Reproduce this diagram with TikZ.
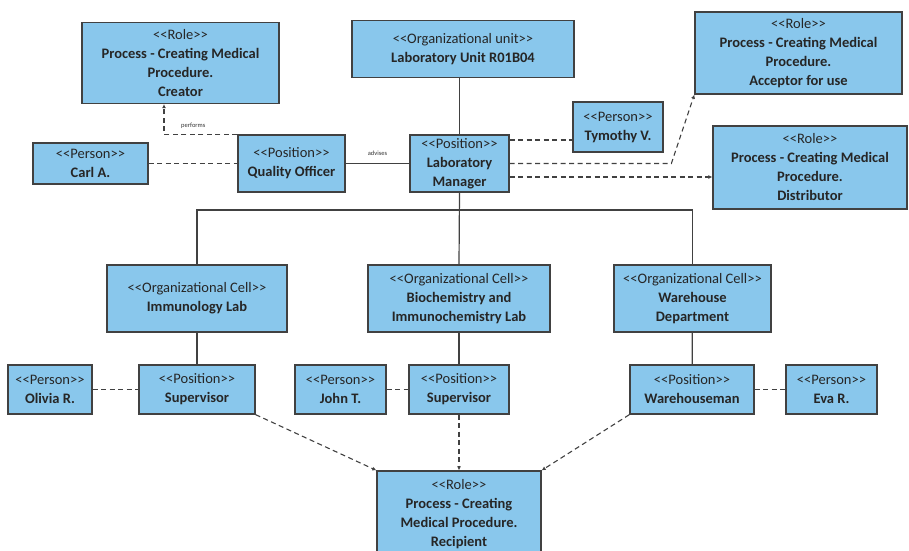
\documentclass[tikz,border=0pt]{standalone}
\usepackage{fontspec}
\setmainfont{Carlito}
\usetikzlibrary{arrows.meta,positioning}
\definecolor{boxblue}{RGB}{137,199,236}
\definecolor{edge}{RGB}{65,65,65}
\newcommand{\st}[1]{{\mdseries {<}{<}#1{>}{>}}}
\newcommand{\nm}[1]{{\bfseries #1}}

\begin{document}
\begin{tikzpicture}[x=1pt, y=-1pt,
	unit/.style={draw=edge, line width=1.3pt, fill=boxblue, align=center, inner sep=0pt, text=black!85,
		font=\fontsize{14.5}{19}\selectfont},
	dep/.style={draw=edge, line width=1.1pt, dash pattern=on 5pt off 3.5pt},
	solid line/.style={draw=edge, line width=1.2pt},
	tip/.style={-{Latex[length=4pt,width=4pt]}},
	lbl/.style={font=\fontsize{6.5}{7}\selectfont, text=black!80}]
	\clip (0,0) rectangle (909,550);
	\useasboundingbox (0,0) rectangle (909,550);
	% top row
	\node[unit, minimum width=197pt, minimum height=81pt] (creator) at (180.5, 63) {\st{Role}\\ \nm{Process - Creating Medical}\\ \nm{Procedure.}\\ \nm{Creator}};
	\node[unit, minimum width=222pt, minimum height=57pt] (orgunit) at (463, 49) {\st{Organizational unit}\\ \nm{Laboratory Unit R01B04}};
	\node[unit, minimum width=207pt, minimum height=82pt] (accept) at (798.5, 53) {\st{Role}\\ \nm{Process - Creating Medical}\\ \nm{Procedure.}\\ \nm{Acceptor for use}};
	% middle row
	\node[unit, minimum width=115pt, minimum height=41pt] (carl) at (90.5, 163.5) {\st{Person}\\ \nm{Carl A.}};
	\node[unit, minimum width=107pt, minimum height=57pt] (qo) at (291.5, 163.5) {\st{Position}\\ \nm{Quality Officer}};
	\node[unit, minimum width=99pt, minimum height=57pt] (mgr) at (459.5, 163.5) {\st{Position}\\ \nm{Laboratory}\\ \nm{Manager}};
	\node[unit, minimum width=90pt, minimum height=50pt] (tym) at (618, 127) {\st{Person}\\ \nm{Tymothy V.}};
	\node[unit, minimum width=194pt, minimum height=83pt] (distr) at (810, 167.5) {\st{Role}\\ \nm{Process - Creating Medical}\\ \nm{Procedure.}\\ \nm{Distributor}};
	% cells
	\node[unit, minimum width=180pt, minimum height=67pt] (immu) at (197, 298.5) {\st{Organizational Cell}\\ \nm{Immunology Lab}};
	\node[unit, minimum width=182pt, minimum height=67pt] (bio) at (459, 298.5) {\st{Organizational Cell}\\ \nm{Biochemistry and}\\ \nm{Immunochemistry Lab}};
	\node[unit, minimum width=157pt, minimum height=67pt] (wh) at (692.5, 298.5) {\st{Organizational Cell}\\ \nm{Warehouse}\\ \nm{Department}};
	% positions and persons
	\node[unit, minimum width=84pt, minimum height=49pt] (olivia) at (50, 389.5) {\st{Person}\\ \nm{Olivia R.}};
	\node[unit, minimum width=116pt, minimum height=49pt] (sup1) at (197, 389.5) {\st{Position}\\ \nm{Supervisor}};
	\node[unit, minimum width=91pt, minimum height=49pt] (john) at (340.5, 389.5) {\st{Person}\\ \nm{John T.}};
	\node[unit, minimum width=100pt, minimum height=49pt] (sup2) at (459, 389.5) {\st{Position}\\ \nm{Supervisor}};
	\node[unit, minimum width=124pt, minimum height=49pt] (whm) at (692, 389.5) {\st{Position}\\ \nm{Warehouseman}};
	\node[unit, minimum width=91pt, minimum height=49pt] (eva) at (831.5, 389.5) {\st{Person}\\ \nm{Eva R.}};
	% bottom
	\node[unit, minimum width=164pt, minimum height=86pt] (recip) at (459, 514) {\st{Role}\\ \nm{Process - Creating}\\ \nm{Medical Procedure.}\\ \nm{Recipient}};
	\coordinate (bus) at (459, 210);

	% hierarchy
	\draw[solid line] (orgunit.south -| mgr) to (mgr.north);
	\draw[solid line] (mgr.south) to (bio.north);
	\draw[solid line] (immu.north) |- (bus) -| (wh.north);
	\draw[solid line] (immu) to (sup1);
	\draw[solid line] (bio) to (sup2);
	\draw[solid line] (wh) to (whm);
	\draw[solid line] (qo) to node[lbl, above=4pt] {advises} (mgr);
	% assignments
	\draw[dep] (carl) to (qo);
	\draw[dep] (olivia) to (sup1);
	\draw[dep] (john) to (sup2);
	\draw[dep] (whm) to (eva);
	\draw[dep] ([yshift=23.5pt]mgr.east) coordinate (m1) to (m1 -| tym.west);
	% roles
	\draw[dep, tip] (qo.north west) -| node[lbl, pos=0.3, above=2pt] {performs} ([xshift=-16.5pt]creator.south);
	\draw[dep, tip] (mgr.east) -- ([xshift=-23pt]accept.south west |- mgr.east) -- (accept.south west);
	\draw[dep, tip] ([yshift=-13.5pt]mgr.east) coordinate (m2) to (m2 -| distr.west);
	\draw[dep, tip] (sup1.south east) to (recip.north west);
	\draw[dep, tip] (sup2.south) to (recip.north);
	\draw[dep, tip] (whm.south west) to (recip.north east);
\end{tikzpicture}
\end{document}
